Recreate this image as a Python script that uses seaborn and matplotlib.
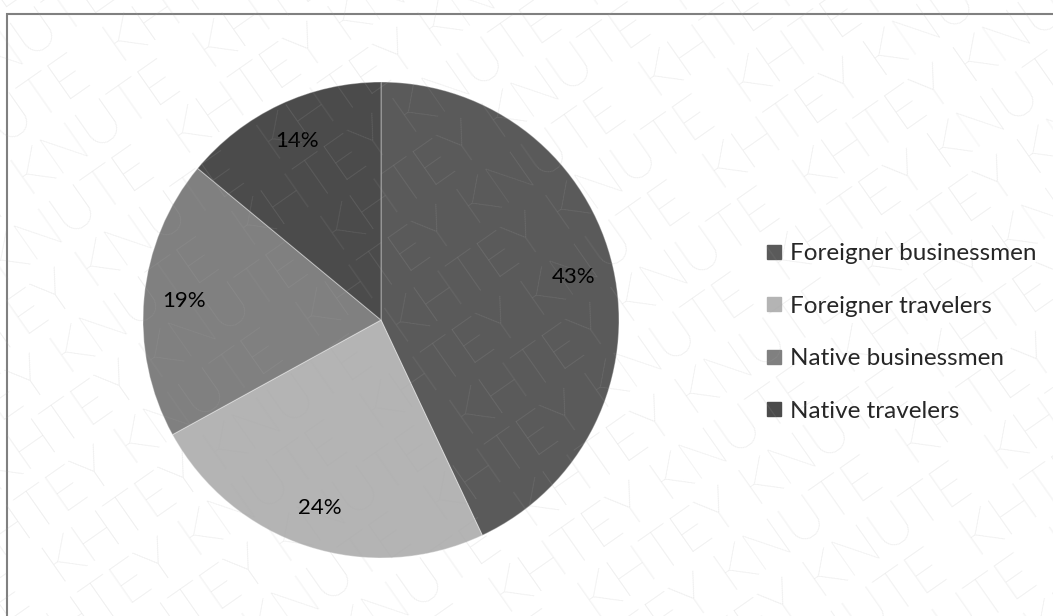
import matplotlib
matplotlib.use("Agg")
import numpy as np
import matplotlib.pyplot as plt
import seaborn as sns
from matplotlib.patches import Rectangle
from matplotlib.lines import Line2D

categories = ["Foreigner businessmen", "Foreigner travelers", "Native businessmen", "Native travelers"]
shares = [43, 24, 19, 14]
colors = ["#5a5a5a", "#b4b4b4", "#808080", "#4b4b4b"]
watermark = "KHTEY KNUTE"

sns.set_theme(style="white")
plt.rcParams['font.family'] = ['Lato', 'DejaVu Sans']

W, H = 1053, 616
fig = plt.figure(figsize=(W / 100, H / 100), dpi=100)
fig.patch.set_facecolor("white")

# chart frame (right and bottom edges run off the picture)
fig.add_artist(Rectangle((7 / W, -0.05), 1.2, (H - 14) / H + 0.05,
                         transform=fig.transFigure, fill=False,
                         edgecolor="#808080", linewidth=1.5))

ax = fig.add_axes([143 / W, (H - 558) / H, 476 / W, 476 / H])
wedges, texts, autotexts = ax.pie(
    shares, colors=colors, startangle=90, counterclock=False,
    autopct=lambda p: f"{p:.0f}%", pctdistance=0.83, radius=1,
    wedgeprops=dict(edgecolor=(1, 1, 1, 0.35), linewidth=0.8),
    textprops=dict(fontsize=16, color="black"))
ax.set_xlim(-1, 1)
ax.set_ylim(-1, 1)
ax.set_aspect("equal")
ax.axis("off")

handles = [Line2D([0], [0], marker="s", linestyle="none", markersize=10.5,
                  markerfacecolor=c, markeredgecolor=c) for c in colors]
leg = fig.legend(handles, categories, loc="upper left",
                 bbox_to_anchor=(764 / W, 1 - 243 / H),
                 frameon=False, fontsize=17.5, handlelength=0.8,
                 handletextpad=0.25, labelspacing=1.3, borderpad=0,
                 borderaxespad=0)

# diagonal watermark rows
ang = np.deg2rad(35)
perp = np.array([-np.sin(ang), np.cos(ang)])
along = np.array([np.cos(ang), np.sin(ang)])
row_text = "  ".join([watermark] * 7)
for k in range(-10, 11):
    c = np.array([W / 2, H / 2]) + perp * k * 56 + along * (k % 2) * 70
    fig.text(c[0] / W, c[1] / H, row_text, rotation=35, fontsize=42,
             fontweight="light", color="#a8a8a8", alpha=0.24,
             ha="center", va="center", rotation_mode="anchor",
             family=['Lato', 'DejaVu Sans'], zorder=10)

fig.savefig("out.png", dpi=100)
